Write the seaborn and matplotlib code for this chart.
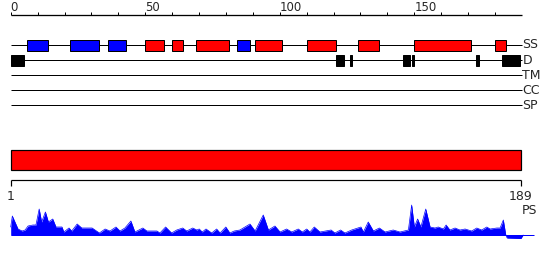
import matplotlib
matplotlib.use("Agg")
import matplotlib.pyplot as plt
import seaborn as sns
import numpy as np

# ---------------- data ----------------
seq_len = 189
ruler_ticks = list(range(0, 190, 10))
ruler_labels = [0, 50, 100, 150]

track_names = ["SS", "D", "TM", "CC", "SP"]

ss_start = [6, 22, 36, 50, 60, 69, 84, 91, 110, 129, 150, 180]
ss_end = [14, 33, 43, 57, 64, 81, 89, 101, 121, 137, 171, 184]
ss_type = ["E", "E", "E", "H", "H", "H", "E", "H", "H", "H", "H", "H"]

d_start = [0, 121, 126, 146, 149, 173, 182.5]
d_end = [5, 124, 127, 148.5, 150, 174, 189.5]

ps_pos = [1.0, 1.6, 3.7, 5.2, 6.3, 7.4, 9.2, 10.3, 11.5, 12.4, 13.8, 14.9, 16.5,
          17.7, 19.9, 20.6, 22.5, 23.5, 25.5, 27.2, 29.1, 31.0, 33.7, 35.8, 37.6,
          39.8, 41.3, 43.1, 45.3, 46.8, 49.7, 51.2, 54.9, 56.0, 58.1, 60.3, 62.2,
          64.4, 65.9, 68.1, 69.6, 70.5, 71.6, 73.0, 75.1, 76.9, 78.2, 80.3, 81.8,
          83.4, 85.5, 89.2, 91.1, 94.1, 96.0, 98.4, 100.3, 102.7, 104.6, 107.0,
          108.5, 110.1, 111.3, 112.9, 115.0, 119.1, 120.5, 122.6, 124.2, 126.7,
          130.1, 131.0, 132.8, 134.7, 136.9, 139.0, 142.0, 144.5, 147.6, 148.8,
          149.8, 151.0, 152.2, 154.0, 155.6, 157.4, 158.6, 160.5, 161.5, 162.9,
          164.8, 166.6, 168.5, 170.9, 172.8, 174.6, 176.5, 177.7, 180.2, 181.4,
          182.6, 183.5, 184.0, 189.1, 189.9]
ps_val = [8, 19, 6, 4, 5, 9, 10, 10, 26, 13, 23, 13, 16,
          8, 8, 3, 7, 4, 11, 7, 7, 7, 2, 6, 4,
          8, 4, 7, 14, 3, 7, 4, 4, 2, 8, 2, 5,
          7, 4, 7, 5, 6, 3, 6, 2, 6, 2, 8, 2,
          4, 5, 11, 4, 20, 5, 9, 3, 6, 3, 6,
          3, 6, 3, 8, 3, 5, 2, 5, 2, 5,
          8, 3, 13, 4, 7, 3, 5, 3, 5, 30,
          8, 16, 8, 26, 8, 7, 8, 6, 10, 5,
          7, 5, 6, 4, 7, 5, 8, 6, 7, 7,
          15, 0, -3, -3.5, 0]

# ---------------- style ----------------
sns.set_style("white")
plt.rcParams["font.family"] = ["DejaVu Sans"]

W, H = 550, 260
fig = plt.figure(figsize=(W / 100, H / 100), dpi=100)
px = 0.72  # one pixel in points

# top section: x in residues, y in pixels (inverted)
top_scale = 2.69
top_x0 = 10.7
ax = fig.add_axes([0, 0, 1, 1])
ax.set_xlim(-top_x0 / top_scale, (W - top_x0) / top_scale)
ax.set_ylim(H, 0)
ax.axis("off")

# ruler
ax.hlines(15, 0, 190, color="black", lw=1.3 * px)
ax.vlines(ruler_ticks, 12.3, 15, color="black", lw=1 * px)
for t in ruler_labels:
    ax.text(t, 10.6, str(t), ha="left", va="baseline", fontsize=8.5)

track_y = [45, 60.3, 75.3, 90, 105.3]
for name, y in zip(track_names, track_y):
    ax.hlines(y, 0, 190, color="black", lw=1 * px, zorder=1)
    ax.text(190.2, y, name, ha="left", va="center", fontsize=9)

ss_colors = {"E": "#0000FF", "H": "#FF0000"}
for s, e, t in zip(ss_start, ss_end, ss_type):
    ax.add_patch(plt.Rectangle((s, 40), e - s, 10.7, facecolor=ss_colors[t],
                               edgecolor="black", lw=1 * px, zorder=2))
for s, e in zip(d_start, d_end):
    ax.add_patch(plt.Rectangle((s, 55), e - s, 10.7, facecolor="black",
                               edgecolor="black", lw=1 * px, zorder=2))

# bottom section
bot_scale = 510 / 188
bx0 = 1 - top_x0 / bot_scale
bx1 = 1 + (W - top_x0) / bot_scale
axb = fig.add_axes([0, 0, 1, 1])
axb.set_xlim(bx0, bx1)
axb.set_ylim(H, 0)
axb.axis("off")
axb.patch.set_alpha(0)

axb.add_patch(plt.Rectangle((1, 150.3), seq_len - 1, 20, facecolor="#FF0000",
                            edgecolor="black", lw=1.2 * px))
axb.hlines(180.3, 1, seq_len, color="black", lw=1.2 * px)
axb.vlines([1, seq_len], 180.3, 185.5, color="black", lw=1.2 * px)
axb.text(1, 189.5, "1", ha="center", va="top", fontsize=9)
axb.text(seq_len, 189.5, str(seq_len), ha="center", va="top", fontsize=9)
axb.text(189.4, 210.7, "PS", ha="left", va="center", fontsize=9)

# PS profile
axp = fig.add_axes([0, 20 / H, 1, 40 / H])
axp.set_xlim(bx0, bx1)
axp.set_ylim(-5, 35)
axp.axis("off")
axp.patch.set_alpha(0)
axp.hlines(0, 1, 193.8, color="#0000FF", lw=1 * px)
axp.fill_between(ps_pos, ps_val, 0, color="#0000FF", lw=0)
sns.lineplot(x=ps_pos, y=ps_val, color="#0000FF", lw=0.5, ax=axp, sort=False)
axp.axis("off")

fig.savefig("out.png", dpi=100)
